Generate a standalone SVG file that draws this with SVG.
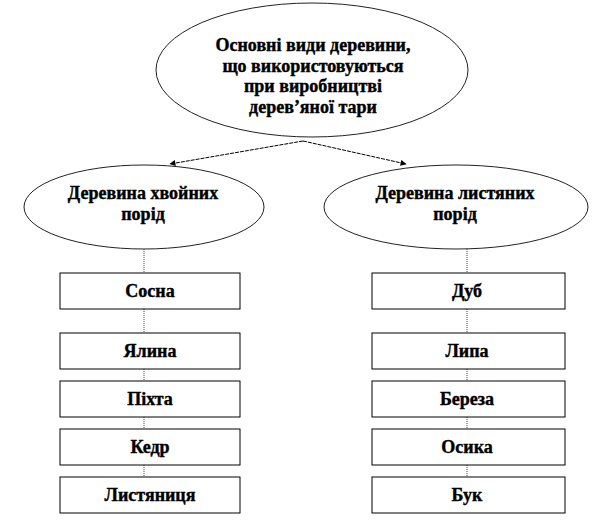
<svg xmlns="http://www.w3.org/2000/svg" width="612" height="523" viewBox="0 0 612 523">
<defs>
<style>
.el{fill:#fff;stroke:#222;stroke-width:1}
.bx{fill:#fff;stroke:#000;stroke-width:1}
.t{font-family:"Liberation Serif","Times New Roman","DejaVu Serif",serif;font-weight:bold;font-size:18px;fill:#000;stroke:#000;stroke-width:0.4;text-anchor:middle}
.arr{stroke:#000;stroke-width:1;stroke-dasharray:4 1;fill:none}
.vl{stroke:#444;stroke-width:1;stroke-dasharray:1 1;fill:none}
</style>
<marker id="ah" viewBox="0 0 10 10" refX="9" refY="5" markerWidth="7" markerHeight="6" orient="auto" markerUnits="userSpaceOnUse">
<path d="M0,0 L10,5 L0,10 z" fill="#000"/>
</marker>
</defs>
<rect width="612" height="523" fill="#fff"/>
<g id="connectors">
<line class="arr" x1="303" y1="141" x2="170" y2="164" marker-end="url(#ah)"/>
<line class="arr" x1="303" y1="141" x2="406" y2="164" marker-end="url(#ah)"/>
<line class="vl" x1="144" y1="249" x2="144" y2="273"/>
<line class="vl" x1="144" y1="309" x2="144" y2="333"/>
<line class="vl" x1="144" y1="369" x2="144" y2="381"/>
<line class="vl" x1="144" y1="417" x2="144" y2="429"/>
<line class="vl" x1="144" y1="465" x2="144" y2="477"/>
<line class="vl" x1="467" y1="249" x2="467" y2="273"/>
<line class="vl" x1="467" y1="309" x2="467" y2="333"/>
<line class="vl" x1="467" y1="369" x2="467" y2="381"/>
<line class="vl" x1="467" y1="417" x2="467" y2="429"/>
<line class="vl" x1="467" y1="465" x2="467" y2="477"/>
</g>
<g id="root">
<ellipse class="el" cx="312" cy="70" rx="156" ry="67"/>
<text class="t" x="313" y="51">Основні види деревини,</text>
<text class="t" x="313" y="72">що використовуються</text>
<text class="t" x="313" y="92">при виробництві</text>
<text class="t" x="313" y="113">дерев’яної тари</text>
</g>
<g id="conifer">
<ellipse class="el" cx="144" cy="207" rx="120" ry="42"/>
<text class="t" x="143" y="199">Деревина хвойних</text>
<text class="t" x="143" y="220">порід</text>
</g>
<g id="deciduous">
<ellipse class="el" cx="456" cy="207" rx="132" ry="42"/>
<text class="t" x="455" y="199">Деревина листяних</text>
<text class="t" x="455" y="220">порід</text>
</g>
<g id="sosna"><rect class="bx" x="60" y="273" width="180" height="36"/><text class="t" x="150" y="297">Сосна</text></g>
<g id="yalyna"><rect class="bx" x="60" y="333" width="180" height="36"/><text class="t" x="150" y="357">Ялина</text></g>
<g id="pikhta"><rect class="bx" x="60" y="381" width="180" height="36"/><text class="t" x="150" y="405">Піхта</text></g>
<g id="kedr"><rect class="bx" x="60" y="429" width="180" height="36"/><text class="t" x="150" y="453">Кедр</text></g>
<g id="lystvennytsia"><rect class="bx" x="60" y="477" width="180" height="36"/><text class="t" x="150" y="501">Листяниця</text></g>
<g id="dub"><rect class="bx" x="372" y="273" width="193" height="36"/><text class="t" x="467" y="297">Дуб</text></g>
<g id="lypa"><rect class="bx" x="372" y="333" width="193" height="36"/><text class="t" x="467" y="357">Липа</text></g>
<g id="bereza"><rect class="bx" x="372" y="381" width="193" height="36"/><text class="t" x="467" y="405">Береза</text></g>
<g id="osyka"><rect class="bx" x="372" y="429" width="193" height="36"/><text class="t" x="467" y="453">Осика</text></g>
<g id="buk"><rect class="bx" x="372" y="477" width="193" height="36"/><text class="t" x="467" y="501">Бук</text></g>
</svg>
